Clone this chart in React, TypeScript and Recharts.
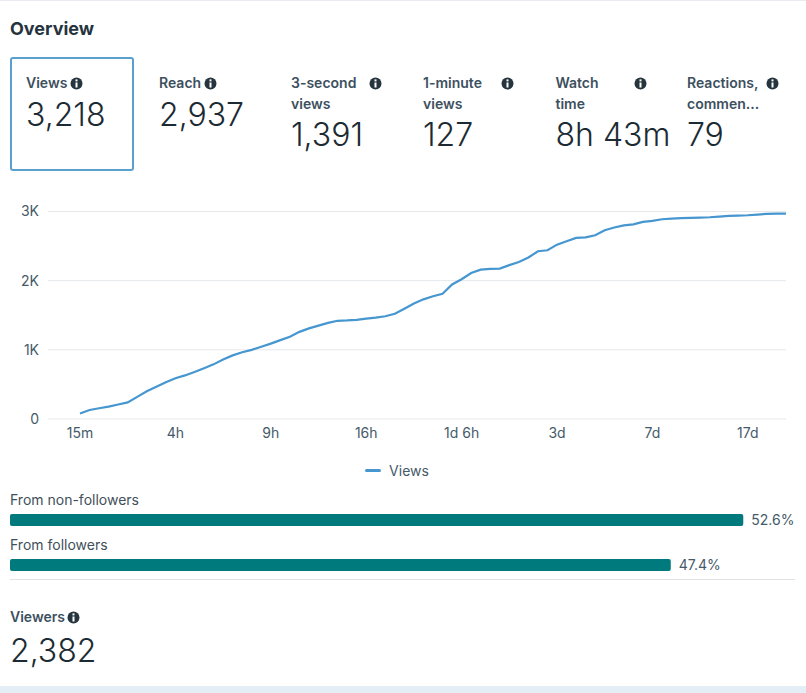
import React from 'react'
import { LineChart, Line, XAxis, YAxis, CartesianGrid, Legend, BarChart, Bar, LabelList } from 'recharts'

const FONT = 'Inter, "Noto Sans", sans-serif'
const TEXT = '#1c2b33'
const MUTED = '#465a69'

const views = [
    80, 130, 155, 180, 210, 240, 320, 400, 465, 530,
    590, 630, 680, 735, 790, 860, 920, 965, 1000, 1045,
    1090, 1140, 1190, 1260, 1310, 1350, 1390, 1420, 1425, 1434,
    1450, 1465, 1485, 1521, 1595, 1670, 1730, 1775, 1811, 1945,
    2020, 2110, 2160, 2170, 2174, 2225, 2270, 2335, 2425, 2439,
    2521, 2570, 2618, 2627, 2656, 2729, 2768, 2800, 2815, 2850,
    2864, 2888, 2898, 2903, 2908, 2912, 2917, 2927, 2937, 2941,
    2946, 2956, 2966, 2970, 2970
]
const tickLabels = ['15m', '4h', '9h', '16h', '1d 6h', '3d', '7d', '17d']
const tickSpots = [0, 10, 20, 30, 40, 50, 60, 70]
const yTicks = [0, 1000, 2000, 3000]

const sources = ['From non-followers', 'From followers']
const shares = [52.6, 47.4]

const metricNames = [['Views'], ['Reach'], ['3-second', 'views'], ['1-minute', 'views'], ['Watch', 'time'], ['Reactions,', 'commen...']]
const metricValues = ['3,218', '2,937', '1,391', '127', '8h 43m', '79']

const lineData = views.map((v, i) => ({ idx: i, views: v }))
const barData = sources.map((s, i) => ({ source: s, share: shares[i] }))

const InfoIcon = ({ x, y }: { x: number; y: number }) => (
    <svg width={13} height={13} viewBox="0 0 13 13" style={{ position: 'absolute', left: x - 6.5, top: y - 6.5 }}>
        <circle cx={6.5} cy={6.5} r={6} fill="#26343e" />
        <rect x={5.5} y={2.4} width={2} height={2} fill="#fff" />
        <rect x={5.5} y={5.5} width={2} height={5} fill="#fff" />
    </svg>
)

const Label = ({ x, y, children }: any) => (
    <div style={{ position: 'absolute', left: x, top: y - 10, height: 20, lineHeight: '20px', fontSize: 14, fontWeight: 600, color: '#3d505e', whiteSpace: 'nowrap' }}>
        {children}
    </div>
)

const BigNumber = ({ x, y, children }: any) => (
    <div style={{ position: 'absolute', left: x, top: y - 20, height: 40, lineHeight: '40px', fontSize: 32, fontWeight: 300, color: TEXT, whiteSpace: 'nowrap' }}>
        {children}
    </div>
)

const metricX = [26, 159, 291, 423, 555.5, 687]
const iconX = [76, 210, 375, 507.5, 640, 772]

const ViewsLegend = () => (
    <div style={{ display: 'flex', justifyContent: 'center', alignItems: 'center', fontSize: 14, color: MUTED, height: 20, paddingLeft: 8 }}>
        <span style={{ width: 16, height: 3, borderRadius: 2, background: '#4696d0', marginRight: 8 }} />
        Views
    </div>
)

const SourceLabel = ({ x, y, value }: any) => (
    <text x={x} y={y - 9} fontSize={14} fill="#3f4f5b" fontFamily={FONT}>
        {value}
    </text>
)

export default function App() {
    return (
        <div style={{ position: 'absolute', left: 0, top: 0, width: 806, height: 693, background: '#fff', overflow: 'hidden', fontFamily: FONT }}>
            <div style={{ position: 'absolute', left: 0, top: 0, width: 806, height: 1, background: '#e9e9f0' }} />
            <div style={{ position: 'absolute', left: 0, top: 686, width: 806, height: 7, background: '#e3eef6' }} />

            <div style={{ position: 'absolute', left: 10, top: 17, lineHeight: '24px', fontSize: 18, fontWeight: 700, color: '#26343e' }}>Overview</div>

            <div style={{ position: 'absolute', left: 10, top: 57, width: 124, height: 114, boxSizing: 'border-box', border: '2px solid #5b9fd0', borderRadius: 3 }} />

            {metricNames.map((lines, i) => (
                <React.Fragment key={i}>
                    {lines.map((line, j) => (
                        <Label key={j} x={metricX[i]} y={83 + j * 21}>{line}</Label>
                    ))}
                    <InfoIcon x={iconX[i]} y={83} />
                    <BigNumber x={metricX[i]} y={lines.length > 1 ? 135 : 115}>{metricValues[i]}</BigNumber>
                </React.Fragment>
            ))}

            <div style={{ position: 'absolute', left: 0, top: 200 }}>
                <LineChart width={806} height={280} data={lineData} margin={{ top: 11.5, right: 20, left: 0, bottom: 0 }}>
                    <CartesianGrid vertical={false} stroke="#e6e8eb" strokeWidth={1} />
                    <XAxis
                        dataKey="idx"
                        type="number"
                        domain={[0, 74]}
                        ticks={tickSpots}
                        interval={0}
                        padding={{ left: 32, right: 0 }}
                        tickFormatter={(v: number) => tickLabels[tickSpots.indexOf(v)]}
                        axisLine={false}
                        tickLine={false}
                        tick={{ fill: MUTED, fontSize: 14, fontFamily: FONT }}
                        tickMargin={3}
                        height={41}
                    />
                    <YAxis
                        domain={[0, 3000]}
                        ticks={yTicks}
                        width={48}
                        tickFormatter={(v: number) => (v === 0 ? '0' : `${v / 1000}K`)}
                        axisLine={false}
                        tickLine={false}
                        tick={{ fill: MUTED, fontSize: 14, fontFamily: FONT }}
                        tickMargin={3}
                    />
                    <Legend verticalAlign="bottom" content={() => <ViewsLegend />} />
                    <Line type="linear" dataKey="views" name="Views" stroke="#4696d0" strokeWidth={2.2} dot={false} isAnimationActive={false} />
                </LineChart>
            </div>

            <div style={{ position: 'absolute', left: 0, top: 467 }}>
                <BarChart width={806} height={120} layout="vertical" data={barData} margin={{ top: 30, right: 0, left: 10, bottom: 0 }}>
                    <XAxis type="number" hide domain={[0, 57.1]} />
                    <YAxis type="category" dataKey="source" hide />
                    <Bar dataKey="share" fill="#007a7c" barSize={12} radius={2} isAnimationActive={false}>
                        <LabelList dataKey="source" content={<SourceLabel />} />
                        <LabelList
                            dataKey="share"
                            position="right"
                            offset={8}
                            formatter={(v: number) => `${v}%`}
                            style={{ fill: MUTED, fontSize: 14, fontFamily: FONT }}
                        />
                    </Bar>
                </BarChart>
            </div>

            <div style={{ position: 'absolute', left: 10, top: 579, width: 785, height: 1, background: '#e0e2e5' }} />

            <Label x={10} y={617}>Viewers</Label>
            <InfoIcon x={73} y={617} />
            <BigNumber x={10} y={651}>2,382</BigNumber>
        </div>
    )
}
